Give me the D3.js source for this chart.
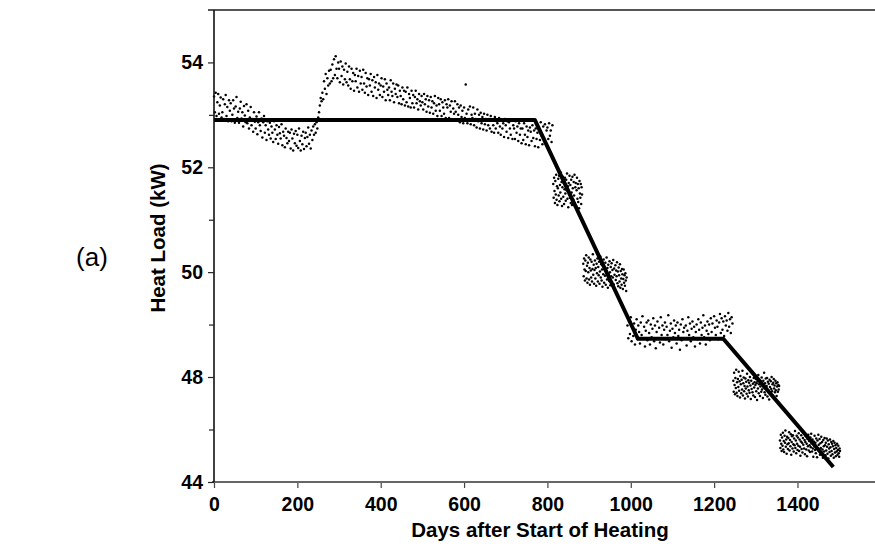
<!DOCTYPE html>
<html>
<head>
<meta charset="utf-8">
<script src="https://cdn.jsdelivr.net/npm/d3@7/dist/d3.min.js"></script>
<style>
  html, body { margin: 0; padding: 0; background: #fff; }
  svg { display: block; }
  text { font-family: "Liberation Sans", Arial, Helvetica, sans-serif; }
</style>
</head>
<body>
<svg id="chart" width="875" height="549"></svg>
<script>
// ---------------- data ----------------
// x-axis ticks (days) and y-axis ticks (kW)
const xTicks = [0, 200, 400, 600, 800, 1000, 1200, 1400];
const yMajorTicks = [44, 48, 50, 52, 54];
const yMinorTicks = [46, 49, 51, 53];

// fitted piecewise-linear heat load (thick line)
const fitDays = [0, 770, 1017, 1222, 1486];
const fitLoad = [52.9, 52.9, 48.73, 48.73, 44.57];

// measured scatter, grouped by test period: first day, sampling step (days), values (kW)
const segStartDays = [0, 814, 886, 992, 1246, 1358];
const segStepDays  = [2, 1, 1, 2, 1, 1];

const seg1Load = [
53.35,53.05,53.42,52.98,53.24,53.40,53.02,53.18,53.33,52.95,
53.05,53.30,52.92,53.20,53.38,52.98,53.15,52.88,53.28,53.08,
53.22,52.88,53.00,53.28,53.12,52.85,53.16,53.34,52.94,53.06,
52.85,53.12,53.25,52.93,53.05,52.78,53.17,52.99,52.86,53.20,
52.84,53.08,52.74,52.95,53.15,52.80,52.92,52.68,53.05,52.87,
52.74,52.97,52.63,52.86,53.05,52.80,52.69,52.93,52.57,52.86,
52.98,52.66,52.80,52.52,52.88,52.72,52.62,52.85,52.55,52.78,
52.66,52.48,52.88,52.72,52.54,52.80,52.62,52.45,52.77,52.65,
52.55,52.82,52.42,52.68,52.60,52.38,52.74,52.56,52.46,52.68,
52.50,52.66,52.36,52.72,52.55,52.32,52.64,52.46,52.69,52.41,
52.62,52.37,52.74,52.50,52.32,52.60,52.44,52.68,52.35,52.56,
52.66,52.40,52.58,52.76,52.45,52.62,52.36,52.70,52.52,52.78,
52.62,52.82,52.66,52.86,52.74,52.95,53.05,53.18,53.32,53.26,
53.42,53.30,53.64,53.50,53.78,53.40,53.70,53.56,53.84,53.60,
53.86,53.64,53.96,53.70,54.06,53.76,54.12,53.88,53.70,54.00,
53.88,53.62,54.02,53.74,53.92,53.58,53.86,53.68,53.98,53.62,
53.82,53.56,53.92,53.68,53.50,53.88,53.64,53.80,53.46,53.76,
53.64,53.88,53.52,53.74,53.44,53.84,53.60,53.72,53.48,53.86,
53.60,53.42,53.80,53.54,53.70,53.38,53.68,53.56,53.78,53.44,
53.66,53.36,53.72,53.52,53.62,53.32,53.76,53.48,53.60,53.38,
53.56,53.70,53.34,53.54,53.44,53.68,53.28,53.60,53.48,53.38,
53.52,53.28,53.66,53.44,53.36,53.60,53.24,53.50,53.40,53.58,
53.34,53.56,53.22,53.46,53.36,53.20,53.52,53.30,53.46,53.18,
53.44,53.24,53.52,53.16,53.40,53.32,53.14,53.46,53.22,53.38,
53.14,53.34,53.46,53.22,53.30,53.10,53.40,53.26,53.18,53.36,
53.24,53.10,53.40,53.20,53.30,53.06,53.36,53.16,53.28,53.04,
53.34,53.14,53.26,53.02,53.22,53.36,53.08,53.18,52.98,53.32,
53.20,53.08,53.30,52.98,53.24,53.14,53.02,53.28,52.94,53.20,
53.14,53.30,52.94,53.18,53.06,53.26,52.90,53.12,53.02,53.26,
53.06,52.90,53.20,53.00,53.14,52.86,53.18,52.96,53.08,52.84,
53.14,52.94,53.58,53.02,52.84,53.10,52.92,53.16,52.82,53.00,
52.94,53.14,52.80,53.02,52.92,52.76,53.10,52.88,53.00,52.74,
53.04,52.84,52.96,52.72,53.02,52.82,52.92,52.70,53.00,52.80,
52.92,52.74,52.98,52.68,52.90,52.80,52.66,52.96,52.74,52.88,
52.84,52.66,52.94,52.78,52.62,52.90,52.74,52.84,52.58,52.92,
52.80,52.68,52.88,52.56,52.86,52.74,52.62,52.90,52.54,52.80,
52.74,52.54,52.88,52.66,52.78,52.50,52.84,52.62,52.74,52.46,
52.74,52.52,52.84,52.62,52.44,52.78,52.58,52.70,52.42,52.76,
52.68,52.50,52.80,52.56,52.70,52.40,52.74,52.54,52.66,52.38,
52.72,52.52,52.86,52.60,52.44,52.78,52.56,52.82,52.48,52.70,
52.76,52.54,52.84,52.60,52.70,52.48,52.80
];
const seg2Load = [
51.68,51.42,51.80,51.55,51.32,51.74,51.48,51.86,51.38,51.64,
51.28,51.60,51.78,51.46,51.84,51.35,51.66,51.52,51.90,51.40,
51.72,51.26,51.62,51.82,51.44,51.70,51.30,51.58,51.80,51.50,
51.36,51.76,51.56,51.88,51.40,51.64,51.24,51.70,51.48,51.84,
51.42,51.66,51.32,51.76,51.52,51.28,51.82,51.60,51.38,51.72,
51.46,51.86,51.32,51.62,51.70,51.26,51.56,51.80,51.40,51.68,
51.34,51.60,51.22,51.74,51.50,51.42,51.68,51.30,51.62,51.48
];
const seg3Load = [
50.16,49.92,50.26,50.05,49.84,50.22,50.02,50.32,49.88,50.12,
49.80,50.18,50.00,50.28,49.86,50.08,49.76,50.24,50.03,49.90,
50.20,49.82,50.06,50.34,49.95,50.14,49.78,50.04,50.22,49.88,
50.08,49.74,50.16,49.98,50.26,49.82,50.10,49.94,50.20,49.78,
50.01,50.30,49.90,50.15,49.84,50.05,49.72,50.12,49.96,50.24,
49.80,50.06,49.93,50.18,49.76,50.02,50.28,49.86,50.08,49.70,
50.14,49.96,49.83,50.21,50.00,49.75,50.10,49.92,50.17,49.81,
50.04,49.90,50.23,49.77,50.07,49.95,49.66,50.13,49.85,50.03,
49.92,50.19,49.79,50.01,49.73,50.09,49.94,49.82,50.15,49.70,
50.02,49.88,49.76,50.06,49.96,49.68,49.87,50.05,49.80,49.94,
49.74,49.98,49.84,49.64,49.90
];
const seg4Load = [
48.98,48.74,49.06,48.82,49.14,48.68,48.94,48.78,49.02,48.62,
48.90,49.10,48.72,48.98,48.86,48.64,49.04,48.80,49.16,48.74,
48.96,48.58,48.88,49.04,48.70,49.08,48.84,48.62,49.00,48.76,
48.92,49.12,48.68,48.98,48.55,48.86,49.06,48.74,48.94,48.66,
49.14,48.80,48.98,48.62,48.90,49.04,48.72,48.96,48.80,49.18,
48.68,48.88,49.02,48.56,48.92,48.76,49.08,48.84,48.98,48.64,
49.04,48.78,48.90,48.52,49.00,48.70,49.10,48.86,48.94,48.74,
48.98,48.60,48.88,49.14,48.80,49.02,48.68,48.92,49.06,48.76,
48.96,48.58,48.86,49.00,48.72,49.10,48.90,48.64,49.04,48.80,
48.94,49.18,48.76,48.98,48.62,48.88,49.06,48.82,49.00,48.70,
49.12,48.86,49.02,48.74,49.16,48.94,48.80,49.08,48.96,48.72,
49.04,49.20,48.84,49.12,48.90,49.06,48.78,49.16,48.98,49.08,
48.88,49.22,48.96,49.10,48.84,49.14,49.02
];
const seg5Load = [
47.86,47.44,48.08,47.70,47.34,47.96,47.58,48.14,47.40,47.80,
47.28,47.92,47.62,48.10,47.48,47.84,47.22,48.02,47.72,47.38,
47.90,47.52,48.12,47.30,47.76,47.98,47.46,47.66,47.18,47.94,
47.56,47.82,47.36,48.06,47.64,47.26,47.88,47.50,47.78,47.40,
48.00,47.68,47.16,47.86,47.54,48.10,47.42,47.74,47.30,47.96,
47.60,47.80,47.24,47.70,47.92,47.46,47.76,47.12,47.84,47.56,
48.04,47.38,47.72,47.88,47.28,47.64,47.82,47.44,47.98,47.52,
47.70,47.20,47.86,47.60,48.08,47.42,47.76,47.32,47.94,47.58,
47.66,47.96,47.26,47.82,47.50,47.74,47.14,47.90,47.62,47.40,
47.84,47.54,48.00,47.46,47.72,47.30,47.78,47.92,47.56,47.68,
47.42,47.86,47.50,47.76,47.28,47.64,47.80,47.44,47.70,47.52,
47.66
];
const seg6Load = [
45.58,45.30,45.80,45.46,45.18,45.70,45.38,45.88,45.24,45.56,
45.14,45.76,45.50,45.96,45.34,45.62,45.08,45.72,45.44,45.26,
45.68,45.48,45.90,45.20,45.60,45.36,45.82,45.04,45.52,45.74,
45.28,45.78,45.44,45.16,45.66,45.40,45.94,45.30,45.58,45.10,
45.76,45.46,45.22,45.70,45.38,45.86,45.18,45.62,45.34,45.00,
45.54,45.78,45.26,45.50,45.12,45.68,45.42,45.88,45.28,45.60,
45.06,45.52,45.74,45.24,45.46,44.98,45.64,45.36,45.80,45.20,
45.56,45.40,45.14,45.70,45.32,45.84,45.48,45.16,45.62,45.28,
44.96,45.54,45.38,45.76,45.22,45.50,45.10,45.66,45.34,44.94,
45.58,45.26,45.80,45.42,45.18,45.64,45.04,45.48,45.30,45.72,
45.12,45.52,45.24,44.92,45.60,45.36,45.16,45.68,45.40,45.02,
45.50,45.20,45.66,45.34,45.08,45.58,44.90,45.44,45.28,45.14,
45.62,45.32,45.00,45.52,45.18,45.46,45.06,45.36,45.56,44.92,
45.26,45.50,45.12,45.40,44.98,45.30,45.16,45.46,45.04,45.22,
45.38,45.10,44.96,45.28,45.18
];
const segLoads = [seg1Load, seg2Load, seg3Load, seg4Load, seg5Load, seg6Load];

// ---------------- chart ----------------
const svg = d3.select("#chart");
const W = 875, H = 549;
const plot = { left: 214, top: 10, bottom: 482, right: 875 };

const x = d3.scaleLinear().domain([0, 1586]).range([plot.left, plot.right]);
// axis is compressed below 48 kW (as in the original figure)
const y = d3.scaleLinear().domain([44, 48, 55]).range([plot.bottom, 377, plot.top]);

// scatter points
const points = [];
segLoads.forEach((vals, s) => {
  vals.forEach((v, i) => points.push({ day: segStartDays[s] + i * segStepDays[s], load: v }));
});

svg.append("g")
  .selectAll("circle")
  .data(points)
  .join("circle")
  .attr("cx", d => x(d.day))
  .attr("cy", d => y(d.load))
  .attr("r", 1.25)
  .attr("fill", "#000");

// fitted line
const fit = fitDays.map((d, i) => ({ day: d, load: fitLoad[i] }));
svg.append("path")
  .datum(fit)
  .attr("fill", "none")
  .attr("stroke", "#000")
  .attr("stroke-width", 4)
  .attr("stroke-linejoin", "round")
  .attr("d", d3.line().x(d => x(d.day)).y(d => y(d.load)));

// top frame line
svg.append("line")
  .attr("x1", plot.left - 6).attr("x2", W)
  .attr("y1", plot.top).attr("y2", plot.top)
  .attr("stroke", "#555").attr("stroke-width", 2);

// x axis
const xAxis = svg.append("g")
  .attr("transform", `translate(0,${plot.bottom})`)
  .call(d3.axisBottom(x).tickValues(xTicks).tickFormat(d3.format("d"))
        .tickSize(6).tickPadding(9).tickSizeOuter(0));
xAxis.select(".domain").remove();
xAxis.append("line")
  .attr("x1", plot.left - 2).attr("x2", W)
  .attr("stroke", "#666").attr("stroke-width", 2);
xAxis.selectAll(".tick line").attr("stroke", "#444").attr("stroke-width", 1.2);
xAxis.selectAll(".tick text")
  .attr("fill", "#000")
  .style("font-size", "19.5px")
  .style("font-weight", "bold");

// y axis (major ticks with labels)
const yAxis = svg.append("g")
  .attr("transform", `translate(${plot.left},0)`)
  .call(d3.axisLeft(y).tickValues(yMajorTicks).tickFormat(d3.format("d"))
        .tickSize(6).tickPadding(5).tickSizeOuter(0));
yAxis.select(".domain").attr("stroke", "#111").attr("stroke-width", 1.6)
  .attr("d", `M0,${plot.top}V${plot.bottom}`);
yAxis.selectAll(".tick line").attr("stroke", "#222").attr("stroke-width", 1.2);
yAxis.selectAll(".tick text")
  .attr("fill", "#000")
  .style("font-size", "19.5px")
  .style("font-weight", "bold");

// y axis minor ticks
const yMinor = svg.append("g")
  .attr("transform", `translate(${plot.left},0)`)
  .call(d3.axisLeft(y).tickValues(yMinorTicks).tickFormat("").tickSize(5).tickSizeOuter(0));
yMinor.select(".domain").remove();
yMinor.selectAll(".tick line").attr("stroke", "#222").attr("stroke-width", 1.2);

// axis titles
svg.append("text")
  .attr("x", 540).attr("y", 537)
  .attr("text-anchor", "middle")
  .style("font-size", "20.5px").style("font-weight", "bold")
  .text("Days after Start of Heating");

svg.append("text")
  .attr("transform", "translate(165,238) rotate(-90)")
  .attr("text-anchor", "middle")
  .style("font-size", "20.5px").style("font-weight", "bold")
  .text("Heat Load (kW)");

// panel label
svg.append("text")
  .attr("x", 92).attr("y", 266)
  .attr("text-anchor", "middle")
  .style("font-size", "26px")
  .text("(a)");
</script>
</body>
</html>
